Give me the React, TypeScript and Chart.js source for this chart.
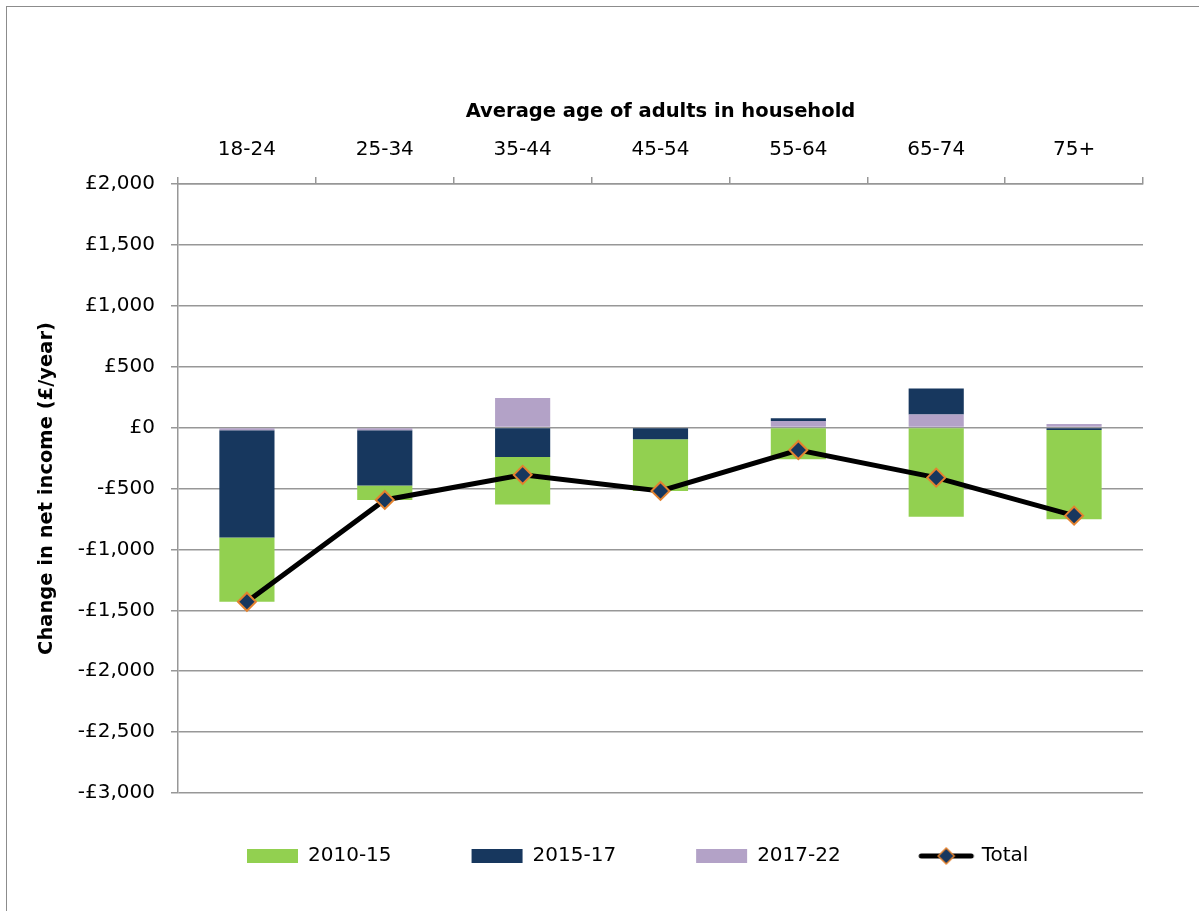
import React, { useEffect, useRef } from 'react';
import { Chart, registerables } from 'chart.js';

Chart.register(...registerables);

// ---- data ----
const categories = ['18-24', '25-34', '35-44', '45-54', '55-64', '65-74', '75+'];
const change2010_15 = [-528, -118, -391, -425, -260, -731, -734];
const change2015_17 = [-880, -454, -241, -95, 21, 213, -19];
const change2017_22 = [-22, -22, 244, 0, 55, 107, 30];
const totalChange = [-1430, -594, -388, -520, -184, -411, -723];
const yMin = -3000;
const yMax = 2000;
const yStep = 500;

const FONT = '"DejaVu Sans", sans-serif';
const GRID = '#979797';
const GREEN = '#92D050';
const NAVY = '#17375E';
const LAVENDER = '#B3A2C7';
const ORANGE = '#E3822F';

function fmtPound(v: number): string {
  const abs = Math.abs(v).toLocaleString('en-GB');
  return (v < 0 ? '-£' : '£') + abs;
}

function makeTotalIcon(): HTMLCanvasElement {
  const c = document.createElement('canvas');
  c.width = 58;
  c.height = 22;
  const ctx = c.getContext('2d')!;
  ctx.strokeStyle = '#000';
  ctx.lineWidth = 5;
  ctx.lineCap = 'round';
  ctx.beginPath();
  ctx.moveTo(4, 11);
  ctx.lineTo(54, 11);
  ctx.stroke();
  ctx.beginPath();
  ctx.moveTo(29 - 8, 11);
  ctx.lineTo(29, 11 - 8);
  ctx.lineTo(29 + 8, 11);
  ctx.lineTo(29, 11 + 8);
  ctx.closePath();
  ctx.fillStyle = NAVY;
  ctx.fill();
  ctx.lineWidth = 1.5;
  ctx.strokeStyle = ORANGE;
  ctx.stroke();
  return c;
}

const legendPlacer = {
  id: 'legendPlacer',
  afterLayout(chart: any) {
    const lg = chart.legend;
    if (!lg) return;
    lg.left = 167;
    lg.right = 1199;
    lg.top = 766;
    lg.bottom = lg.top + lg.height;
  },
};

export default function App() {
  const canvasRef = useRef<HTMLCanvasElement | null>(null);

  useEffect(() => {
    if (!canvasRef.current) return;
    const totalIcon = makeTotalIcon();
    const chart = new Chart(canvasRef.current, {
      type: 'bar',
      data: {
        labels: categories,
        datasets: [
          {
            type: 'bar',
            label: '2010-15',
            data: change2010_15,
            backgroundColor: GREEN,
            stack: 'bars',
            order: 3,
            categoryPercentage: 1,
            barPercentage: 0.4,
          },
          {
            type: 'bar',
            label: '2015-17',
            data: change2015_17,
            backgroundColor: NAVY,
            stack: 'bars',
            order: 2,
            categoryPercentage: 1,
            barPercentage: 0.4,
          },
          {
            type: 'bar',
            label: '2017-22',
            data: change2017_22,
            backgroundColor: LAVENDER,
            stack: 'bars',
            order: 1,
            categoryPercentage: 1,
            barPercentage: 0.4,
          },
          {
            type: 'line',
            label: 'Total',
            data: totalChange,
            borderColor: '#000',
            borderWidth: 5,
            tension: 0,
            fill: false,
            stack: 'total',
            order: 0,
            pointStyle: 'rectRot',
            pointRadius: 9,
            pointHoverRadius: 9,
            pointBackgroundColor: NAVY,
            pointBorderColor: ORANGE,
            pointBorderWidth: 2,
          },
        ] as any,
      },
      options: {
        responsive: false,
        animation: false,
        devicePixelRatio: 1,
        layout: { padding: { left: 0, top: 0, right: 56, bottom: 8 } },
        plugins: {
          tooltip: { enabled: false },
          legend: {
            display: true,
            position: 'bottom',
            align: 'start',
            labels: {
              color: '#000',
              font: { family: FONT, size: 20 },
              usePointStyle: true,
              pointStyleWidth: 51,
              boxHeight: 14,
              padding: 80,
              sort: (a: any, b: any) => a.datasetIndex - b.datasetIndex,
              generateLabels: (ch: any) => {
                const items = (Chart.defaults.plugins.legend.labels as any).generateLabels(ch);
                items.forEach((it: any) => {
                  if (it.datasetIndex === 3) {
                    it.pointStyle = totalIcon;
                  } else {
                    it.pointStyle = 'rect';
                    it.lineWidth = 0;
                  }
                });
                return items;
              },
            },
          } as any,
        },
        scales: {
          x: {
            position: 'top',
            stacked: true,
            offset: true,
            grid: {
              display: true,
              drawOnChartArea: false,
              drawTicks: true,
              tickLength: 7,
              color: GRID,
              lineWidth: 1.5,
              offset: true,
            },
            border: { display: true, color: GRID, width: 1.5 },
            ticks: {
              color: '#000',
              font: { family: FONT, size: 20 },
              padding: 15,
              maxRotation: 0,
              autoSkip: false,
            },
            title: {
              display: true,
              text: 'Average age of adults in household',
              color: '#000',
              font: { family: FONT, size: 19.5, weight: 'bold' },
              padding: { top: 100, bottom: 0 },
            },
            afterFit: (s: any) => {
              s.height = 184;
            },
          },
          y: {
            stacked: true,
            min: yMin,
            max: yMax,
            ticks: {
              stepSize: yStep,
              color: '#000',
              font: { family: FONT, size: 20 },
              padding: 16,
              callback: (v: any) => fmtPound(Number(v)),
            },
            grid: {
              color: GRID,
              lineWidth: 1.5,
              tickLength: 7,
              drawTicks: true,
            },
            border: { display: true, color: GRID, width: 1.5 },
            title: {
              display: true,
              text: 'Change in net income (£/year)',
              color: '#000',
              font: { family: FONT, size: 19.5, weight: 'bold' },
              padding: { top: 35, bottom: 0 },
            },
            afterFit: (s: any) => {
              s.width = 178;
            },
          },
        },
      } as any,
      plugins: [legendPlacer],
    });
    return () => chart.destroy();
  }, []);

  return (
    <div
      style={{
        position: 'absolute',
        left: 0,
        top: 0,
        width: 1199,
        height: 911,
        overflow: 'hidden',
        background: '#fff',
      }}
    >
      <div
        style={{
          position: 'absolute',
          left: 6,
          top: 6,
          width: 1300,
          height: 1000,
          borderLeft: '1.5px solid #8c8c8c',
          borderTop: '1.5px solid #8c8c8c',
        }}
      />
      <canvas
        ref={canvasRef}
        width={1199}
        height={911}
        style={{ position: 'absolute', left: 0, top: 0, width: 1199, height: 911 }}
      />
    </div>
  );
}
